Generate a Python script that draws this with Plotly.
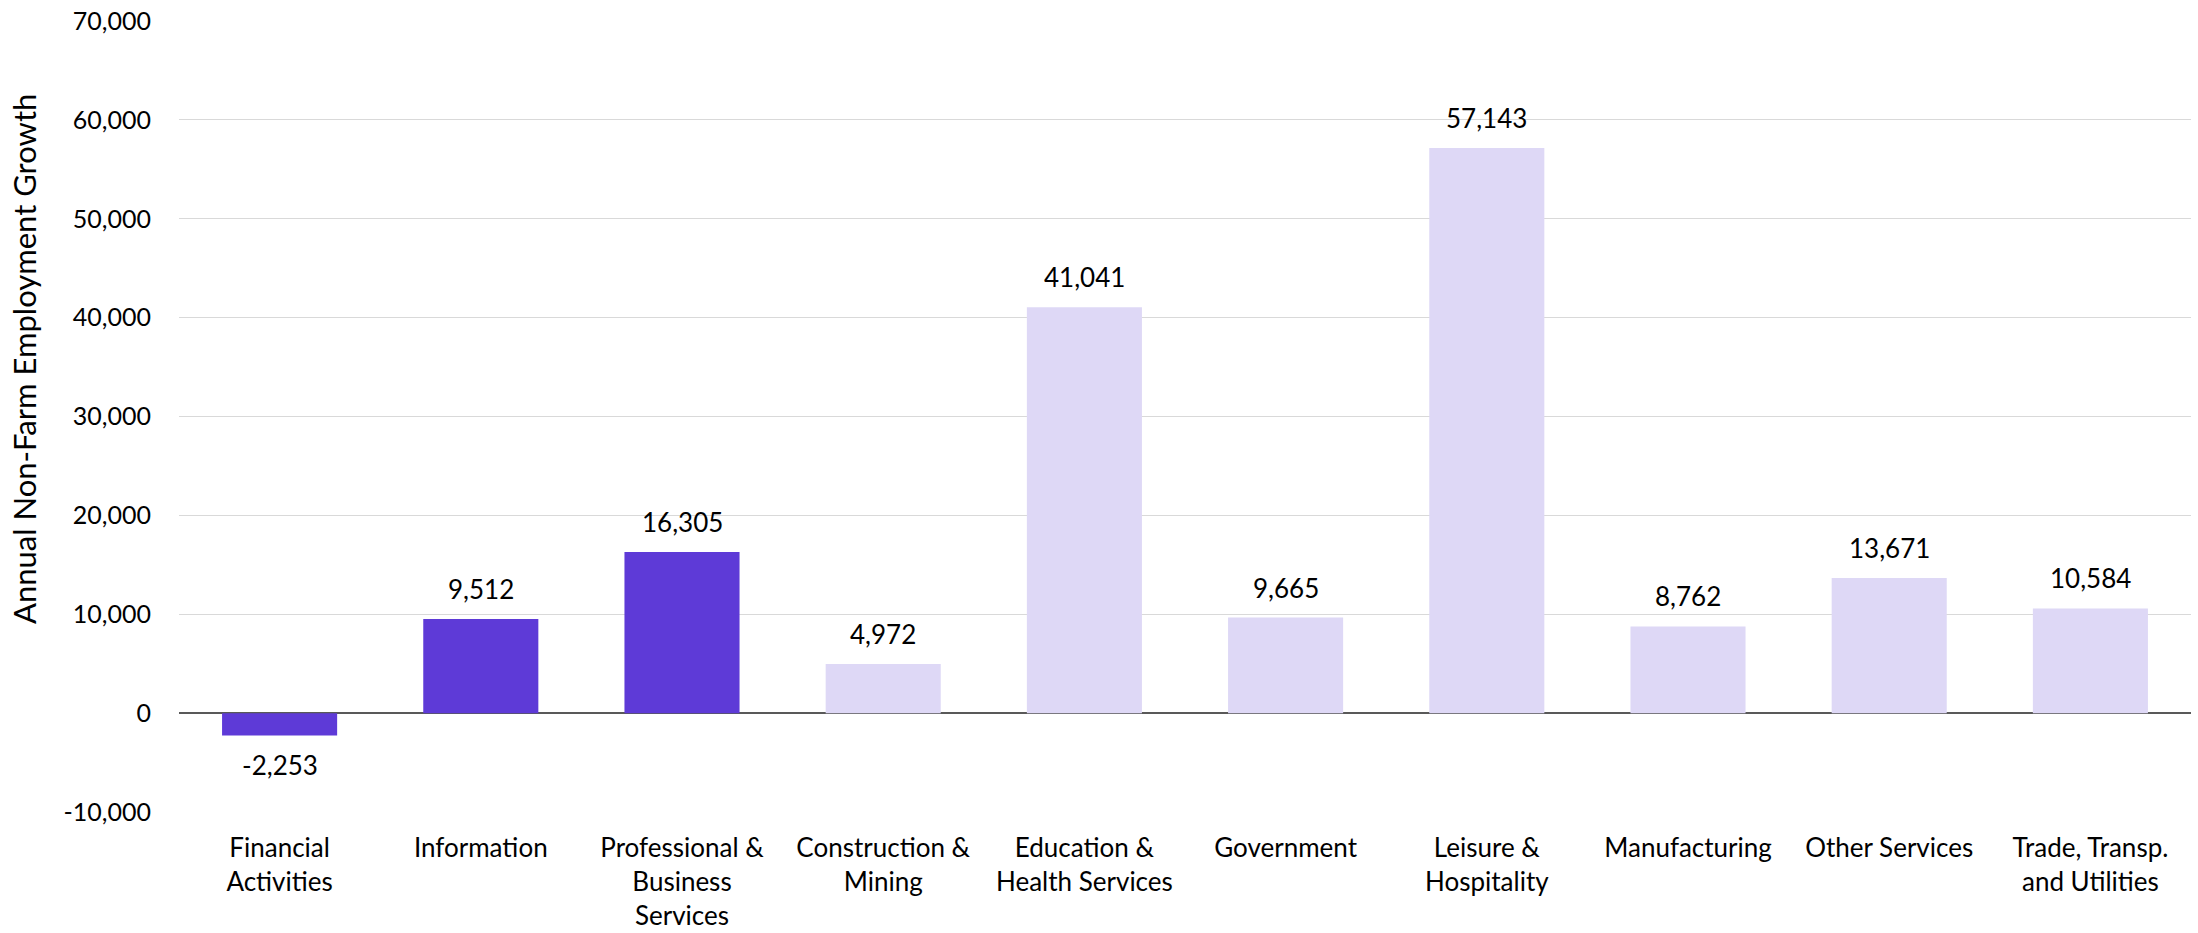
import plotly.graph_objects as go

# Sectors, annual non-farm employment growth, and which sectors are highlighted
categories = [
    "Financial<br>Activities",
    "Information",
    "Professional &<br>Business<br>Services",
    "Construction &<br>Mining",
    "Education &<br>Health Services",
    "Government",
    "Leisure &<br>Hospitality",
    "Manufacturing",
    "Other Services",
    "Trade, Transp.<br>and Utilities",
]
growth = [-2253, 9512, 16305, 4972, 41041, 9665, 57143, 8762, 13671, 10584]
highlighted = [True, True, True, False, False, False, False, False, False, False]

y_ticks = [-10000, 0, 10000, 20000, 30000, 40000, 50000, 60000, 70000]

DARK = "#5E3AD7"
LIGHT = "#DED8F6"
FONT = "Lato, Carlito, 'Liberation Sans', sans-serif"

W, H = 2198, 933
L, R, T, B = 179, 7, 21, 121

fig = go.Figure(
    go.Bar(
        x=categories,
        y=growth,
        marker=dict(color=[DARK if h else LIGHT for h in highlighted], line=dict(width=0)),
        hoverinfo="x+y",
    )
)

# Value labels above positive bars and below negative ones
for cat, val in zip(categories, growth):
    fig.add_annotation(
        x=cat, y=val, xref="x", yref="y",
        text=f"{val:,}",
        showarrow=False,
        yanchor="bottom" if val >= 0 else "top",
        yshift=12 if val >= 0 else -12,
        font=dict(family=FONT, size=26, color="#000000"),
    )

# Vertical axis title
plot_h = H - T - B
plot_w = W - L - R
fig.add_annotation(
    xref="paper", yref="paper",
    x=(24 - L) / plot_w, y=(H - B - 359) / plot_h,
    text="Annual Non-Farm Employment Growth",
    textangle=-90,
    showarrow=False,
    xanchor="center", yanchor="middle",
    font=dict(family=FONT, size=31, color="#000000"),
)

fig.update_layout(
    width=W, height=H,
    margin=dict(l=L, r=R, t=T, b=B, autoexpand=False),
    paper_bgcolor="white",
    plot_bgcolor="white",
    bargap=0.428,
    showlegend=False,
    font=dict(family=FONT, color="#000000"),
)

fig.update_xaxes(
    showgrid=False,
    showline=False,
    ticks="",
    tickfont=dict(family=FONT, size=26, color="#000000"),
    ticklabelstandoff=18,
    automargin=False,
)

fig.update_yaxes(
    range=[-10000, 70000],
    tickvals=y_ticks,
    ticktext=[f"{v:,}" for v in y_ticks],
    showgrid=True,
    gridcolor="#D9D9D9",
    gridwidth=1.3,
    zeroline=True,
    zerolinecolor="#595959",
    zerolinewidth=1.5,
    showline=False,
    ticks="",
    tickfont=dict(family=FONT, size=25, color="#000000"),
    ticklabelstandoff=27,
    automargin=False,
)

fig.write_html("out.html")
